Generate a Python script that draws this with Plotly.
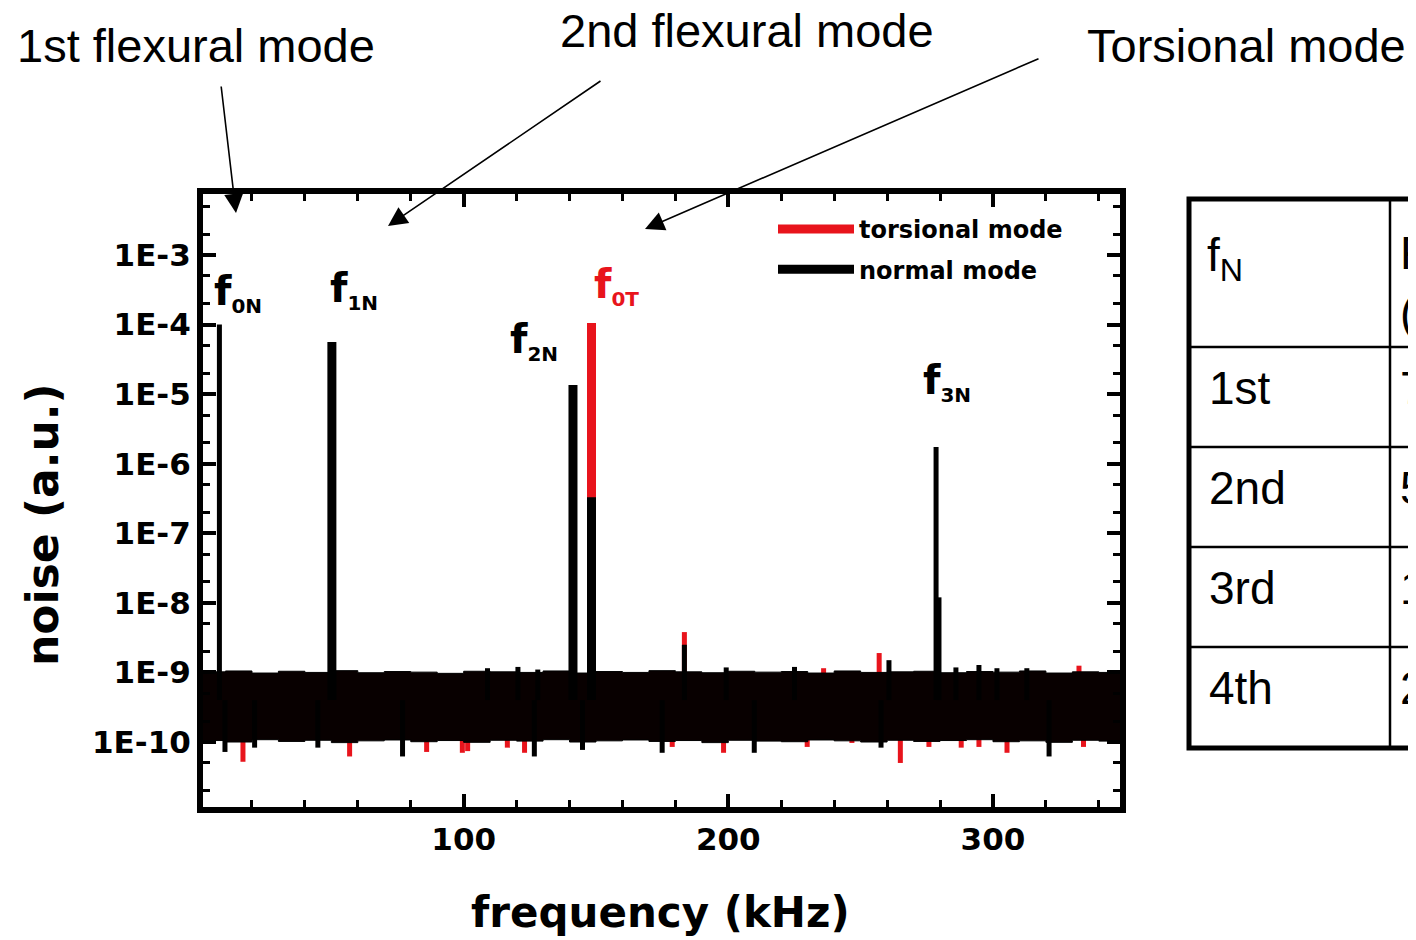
import numpy as np
import plotly.graph_objects as go

# ---------------- data ----------------
# resonance peaks: frequency (kHz), peak amplitude (a.u.)
normal_thick_freq = [50.2, 141.3, 148.3]
normal_thick_amp = [5.6e-5, 1.35e-5, 3.3e-7]
normal_thin_freq = [7.7, 278.5, 279.6, 183.4]
normal_thin_amp = [1.0e-4, 1.74e-6, 1.2e-8, 2.5e-9]
torsional_freq = [148.3]
torsional_amp = [1.05e-4]

# noise floor envelope (every 10 kHz)
noise_freq = list(range(0, 360, 10))
noise_top = [1.02e-9, 1.05e-9, 0.98e-9, 1.04e-9, 1.00e-9, 1.06e-9, 0.99e-9, 1.03e-9, 1.01e-9,
             0.97e-9, 1.04e-9, 1.02e-9, 1.00e-9, 1.05e-9, 0.98e-9, 1.03e-9, 1.00e-9, 1.06e-9,
             1.02e-9, 0.99e-9, 1.04e-9, 1.01e-9, 1.03e-9, 0.98e-9, 1.05e-9, 1.00e-9, 1.02e-9,
             1.04e-9, 0.99e-9, 1.03e-9, 1.01e-9, 1.05e-9, 0.98e-9, 1.02e-9, 1.00e-9, 1.03e-9]
noise_bottom = [1.05e-10, 1.00e-10, 1.08e-10, 1.02e-10, 1.06e-10, 0.98e-10, 1.04e-10, 1.07e-10,
                1.01e-10, 1.05e-10, 0.99e-10, 1.06e-10, 1.03e-10, 1.08e-10, 1.00e-10, 1.04e-10,
                1.07e-10, 1.02e-10, 1.05e-10, 0.98e-10, 1.06e-10, 1.03e-10, 1.01e-10, 1.07e-10,
                1.04e-10, 1.00e-10, 1.06e-10, 1.02e-10, 1.05e-10, 1.08e-10, 1.01e-10, 1.04e-10,
                0.99e-10, 1.06e-10, 1.03e-10, 1.05e-10]

# noise spikes sticking out of the floor
red_down_freq = [16.6, 56.9, 86.0, 99.5, 101.5, 116.5, 123.0, 178.8, 198.2, 229.8, 246.7, 265.0,
                 275.8, 288.0, 294.7, 305.3, 334.2]
red_down_amp = [5.2e-11, 6.2e-11, 7.2e-11, 7.0e-11, 7.4e-11, 8.3e-11, 7.0e-11, 8.5e-11, 7.0e-11,
                8.5e-11, 9.7e-11, 5.0e-11, 8.5e-11, 8.3e-11, 8.5e-11, 7.0e-11, 8.5e-11]
black_down_freq = [9.8, 21.0, 44.9, 76.9, 126.7, 144.9, 175.0, 209.8, 257.7, 321.2]
black_down_amp = [7.2e-11, 8.3e-11, 8.3e-11, 6.2e-11, 6.2e-11, 7.7e-11, 7.0e-11, 7.0e-11, 8.3e-11,
                  6.2e-11]
red_up_freq = [183.4, 257.0, 332.5, 236.0]
red_up_amp = [3.8e-9, 1.9e-9, 1.25e-9, 1.15e-9]
black_up_freq = [109.0, 120.5, 128.0, 199.2, 225.0, 260.7, 286.0, 294.7, 301.5, 312.8]
black_up_amp = [1.15e-9, 1.2e-9, 1.1e-9, 1.18e-9, 1.2e-9, 1.5e-9, 1.18e-9, 1.28e-9, 1.15e-9,
                1.15e-9]
floor_base = 4e-10

# peak labels
label_text = ["0N", "1N", "2N", "0T", "3N"]
label_freq = [7.7, 50.2, 141.3, 148.3, 278.5]
label_amp = [1.0e-4, 5.6e-5, 1.35e-5, 1.05e-4, 1.74e-6]
label_color = ["black", "black", "black", "#e8141c", "black"]

# table
table_rows = ["1st", "2nd", "3rd", "4th"]
table_freq = ["7.7", "50.2", "141.3", "278.5"]

RED = "#e8141c"

# ---------------- layout helpers (reference pixel -> paper) ----------------
OFF = 8  # page body margin
L, R, T, B = 203 - OFF, 1120 - OFF, 194 - OFF, 807 - OFF
def px(x):
    return (x - OFF - L) / (R - L)
def py(y):
    return (B - (y - OFF)) / (B - T)

def segs(freqs, amps, base):
    xs, ys = [], []
    for f, a in zip(freqs, amps):
        xs += [f, f, None]
        ys += [base, a, None]
    return xs, ys

fig = go.Figure()

# red noise spikes (behind the floor)
x, y = segs(red_down_freq + red_up_freq, red_down_amp + red_up_amp, floor_base)
fig.add_trace(go.Scatter(x=x, y=y, mode="lines", line=dict(color=RED, width=5),
                         showlegend=False, hoverinfo="skip"))
# noise floor band
fig.add_trace(go.Scatter(x=noise_freq, y=noise_bottom, mode="lines",
                         line=dict(color="black", width=1, shape="hv"),
                         showlegend=False, hoverinfo="skip"))
fig.add_trace(go.Scatter(x=noise_freq, y=noise_top, mode="lines", fill="tonexty",
                         fillcolor="#080000", line=dict(color="black", width=1, shape="hv"),
                         showlegend=False, hoverinfo="skip"))
# black noise spikes
x, y = segs(black_down_freq + black_up_freq, black_down_amp + black_up_amp, floor_base)
fig.add_trace(go.Scatter(x=x, y=y, mode="lines", line=dict(color="black", width=5),
                         showlegend=False, hoverinfo="skip"))
# torsional peak
x, y = segs(torsional_freq, torsional_amp, floor_base)
fig.add_trace(go.Scatter(x=x, y=y, mode="lines", line=dict(color=RED, width=9),
                         name="torsional mode", legendrank=1, legendgroup="t"))
# normal peaks
x, y = segs(normal_thick_freq, normal_thick_amp, floor_base)
fig.add_trace(go.Scatter(x=x, y=y, mode="lines", line=dict(color="black", width=9),
                         name="normal mode", legendrank=2, legendgroup="n"))
x, y = segs(normal_thin_freq, normal_thin_amp, floor_base)
fig.add_trace(go.Scatter(x=x, y=y, mode="lines", line=dict(color="black", width=5),
                         showlegend=False, legendgroup="n"))

annotations = []
# peak labels
shifts = [(-7, 5, "left"), (-4, 25, "left"), (-13, 17, "right"), (0, 10, "left"), (-15, 38, "left")]
for t, f, a, c, (xs, ys, xa) in zip(label_text, label_freq, label_amp, label_color, shifts):
    annotations.append(dict(
        x=f, y=np.log10(a), xref="x", yref="y", showarrow=False,
        text=f"f<sub><span style='font-size:20px'>{t}</span></sub>",
        font=dict(family="DejaVu Sans", size=40, color=c, weight="bold"),
        xanchor=xa, yanchor="bottom", xshift=xs, yshift=ys))

# axis titles
title_font = dict(family="DejaVu Sans", size=42, color="black", weight="bold")
annotations.append(dict(x=px(660), y=py(912), xref="paper", yref="paper", showarrow=False,
                        text="frequency (kHz)", xanchor="center", yanchor="middle",
                        font=title_font))
annotations.append(dict(x=px(42), y=py(525), xref="paper", yref="paper", showarrow=False,
                        text="noise (a.u.)", textangle=-90, xanchor="center", yanchor="middle",
                        font=dict(family="DejaVu Sans", size=44, color="black", weight="bold")))

# mode call-outs
top_font = dict(family="Liberation Sans", size=47, color="black")
for txt, cx, cy in [("1st flexural mode", 196, 45), ("2nd flexural mode", 747, 31),
                    ("Torsional mode", 1246, 45)]:
    annotations.append(dict(x=px(cx), y=py(cy), xref="paper", yref="paper", showarrow=False,
                            text=txt, font=top_font, xanchor="center", yanchor="middle"))
for (hx, hy), (tx, ty) in [((236, 213), (221, 85)), ((388, 226), (602, 80)),
                           ((645, 229), (1040, 58))]:
    annotations.append(dict(x=px(hx), y=py(hy), xref="paper", yref="paper", text="",
                            showarrow=True, ax=tx - hx, ay=ty - hy, axref="pixel", ayref="pixel",
                            arrowhead=2, arrowsize=2.4, arrowwidth=1.6, arrowcolor="black"))

# table
shapes = []
tab_l, tab_t, tab_r, tab_b, col_x = 1189, 199, 1480, 748, 1390
row_lines = [347, 447, 547, 647]
shapes.append(dict(type="rect", xref="paper", yref="paper", x0=px(tab_l), x1=px(tab_r),
                   y0=py(tab_b), y1=py(tab_t), line=dict(color="black", width=5)))
for ry in row_lines:
    shapes.append(dict(type="line", xref="paper", yref="paper", x0=px(tab_l), x1=px(tab_r),
                       y0=py(ry), y1=py(ry), line=dict(color="black", width=2.5)))
shapes.append(dict(type="line", xref="paper", yref="paper", x0=px(col_x), x1=px(col_x),
                   y0=py(tab_b), y1=py(tab_t), line=dict(color="black", width=2.5)))
tab_font = dict(family="Liberation Sans", size=46, color="black")
annotations.append(dict(x=px(1205), y=py(258), xref="paper", yref="paper", showarrow=False,
                        text="f<sub>N</sub>", font=tab_font, xanchor="left", yanchor="middle"))
annotations.append(dict(x=px(1398), y=py(283), xref="paper", yref="paper", showarrow=False,
                        text="Frequency<br>(kHz)", font=tab_font, xanchor="left",
                        yanchor="middle", align="left"))
for i, (r, fr) in enumerate(zip(table_rows, table_freq)):
    cy = 388 + 100 * i
    annotations.append(dict(x=px(1207), y=py(cy), xref="paper", yref="paper", showarrow=False,
                            text=r, font=tab_font, xanchor="left", yanchor="middle"))
    annotations.append(dict(x=px(1398), y=py(cy), xref="paper", yref="paper", showarrow=False,
                            text=fr, font=tab_font, xanchor="left", yanchor="middle"))

xtick_font = dict(family="DejaVu Sans", size=31, color="black", weight="bold")
ytick_font = dict(family="DejaVu Sans", size=31, color="black", weight="bold")
fig.update_layout(
    width=1416, height=940,
    margin=dict(l=L, r=1416 - R, t=T, b=940 - B),
    paper_bgcolor="white", plot_bgcolor="white",
    showlegend=True,
    legend=dict(x=px(773), y=py(207), xanchor="left", yanchor="top",
                bgcolor="rgba(0,0,0,0)", itemwidth=76, traceorder="grouped",
                tracegroupgap=6,
                font=dict(family="DejaVu Sans", size=24, color="black", weight="bold")),
    xaxis=dict(range=[1.5, 348], tickmode="linear", tick0=0, dtick=100,
               ticks="inside", ticklen=13, tickwidth=4, tickcolor="black",
               minor=dict(ticks="inside", dtick=20, tick0=0, ticklen=7, tickwidth=3,
                          tickcolor="black"),
               showline=True, linewidth=6, linecolor="black", mirror="ticks",
               showgrid=False, zeroline=False, tickfont=xtick_font),
    yaxis=dict(type="log", range=[-10.934, -2.124],
               tickmode="array",
               tickvals=[1e-3, 1e-4, 1e-5, 1e-6, 1e-7, 1e-8, 1e-9, 1e-10],
               ticktext=["1E-3", "1E-4", "1E-5", "1E-6", "1E-7", "1E-8", "1E-9", "1E-10"],
               ticks="inside", ticklen=13, tickwidth=4, tickcolor="black",
               minor=dict(ticks="inside", dtick="D2", ticklen=7, tickwidth=3,
                          tickcolor="black"),
               showline=True, linewidth=6, linecolor="black", mirror="ticks",
               showgrid=False, zeroline=False, tickfont=ytick_font),
    annotations=annotations,
    shapes=shapes,
)

fig.write_html("out.html")
